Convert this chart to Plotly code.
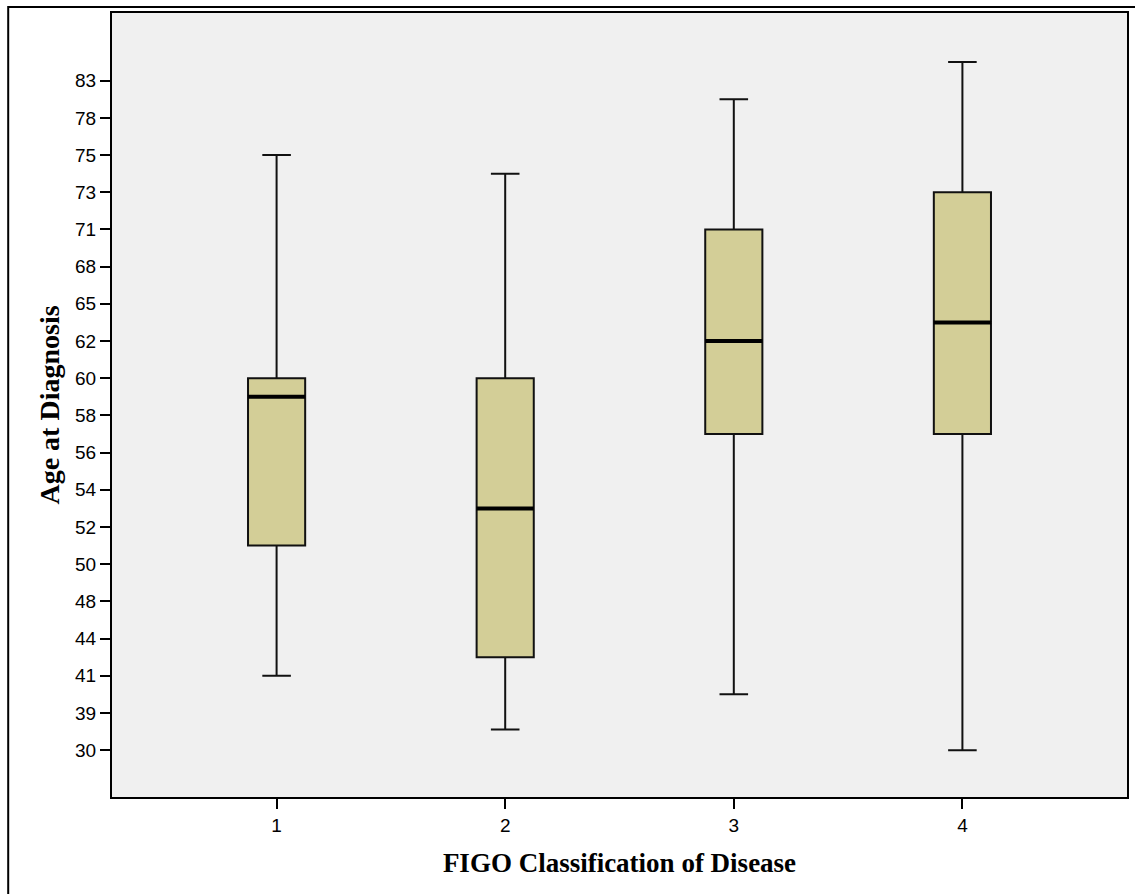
import numpy as np
import plotly.graph_objects as go

# Ordinal y-axis tick labels (ages), evenly spaced on the chart
tick_labels = [30, 39, 41, 44, 48, 50, 52, 54, 56, 58, 60, 62, 65, 68, 71, 73, 75, 78, 83]

categories = [1, 2, 3, 4]
lower_whisker = [41, 35, 40, 30]
q1_values = [51, 42.5, 57, 57]
median_values = [59, 53, 62, 63.5]
q3_values = [60, 60, 71, 73]
upper_whisker = [75, 74, 80.5, 85.5]


def age_to_pos(v):
    """Map an age onto the ordinal axis (tick i at position i), linear between ticks."""
    t = np.array(tick_labels, dtype=float)
    idx = np.arange(len(t), dtype=float)
    v = np.asarray(v, dtype=float)
    p = np.interp(v, t, idx)
    hi = v > t[-1]
    p = np.where(hi, idx[-1] + (v - t[-1]) / (t[-1] - t[-2]), p)
    lo = v < t[0]
    p = np.where(lo, (v - t[0]) / (t[1] - t[0]), p)
    return p


BOX_W = 0.25
fig = go.Figure()
fig.add_trace(go.Box(
    x=categories,
    q1=age_to_pos(q1_values),
    median=age_to_pos(median_values),
    q3=age_to_pos(q3_values),
    lowerfence=age_to_pos(lower_whisker),
    upperfence=age_to_pos(upper_whisker),
    width=BOX_W,
    whiskerwidth=0.5,
    fillcolor="#D3CE97",
    line=dict(color="#111111", width=2),
    boxpoints=False,
    hoverinfo="skip",
    showlegend=False,
))

# thick median lines
mx, my = [], []
for c, m in zip(categories, age_to_pos(median_values)):
    mx += [c - BOX_W / 2, c + BOX_W / 2, None]
    my += [m, m, None]
fig.add_trace(go.Scatter(x=mx, y=my, mode="lines",
                         line=dict(color="black", width=4),
                         showlegend=False, hoverinfo="skip"))

fig.update_layout(
    width=1135, height=894,
    margin=dict(l=112, r=6, t=13, b=97),
    paper_bgcolor="white",
    plot_bgcolor="#F0F0F0",
    font=dict(family="Liberation Sans, Arial", size=19, color="black"),
    xaxis=dict(
        range=[0.28, 4.72],
        tickvals=categories,
        ticktext=[str(c) for c in categories],
        ticks="outside", ticklen=10, tickwidth=2, tickcolor="black",
        showgrid=False, zeroline=False,
        showline=True, linecolor="black", linewidth=2, mirror=True,
        title=dict(text="<b>FIGO Classification of Disease</b>",
                   font=dict(family="Liberation Serif, Times New Roman", size=27),
                   standoff=18),
    ),
    yaxis=dict(
        range=[-1.26, 19.82],
        tickvals=list(range(len(tick_labels))),
        ticktext=[str(t) for t in tick_labels],
        ticks="outside", ticklen=10, tickwidth=2, tickcolor="black",
        showgrid=False, zeroline=False,
        showline=True, linecolor="black", linewidth=2, mirror=True,
        title=dict(text="<b>Age at Diagnosis</b>",
                   font=dict(family="Liberation Serif, Times New Roman", size=28),
                   standoff=7),
    ),
)

# outer frame of the original figure (top and left edges visible)
fig.add_shape(type="rect", xref="paper", yref="paper",
              x0=(8 - 112) / 1017, x1=1.2, y0=-0.3, y1=(797 - 7) / 784,
              line=dict(color="black", width=2), layer="below")

fig.write_html("out.html", config={"displayModeBar": False})

# remove the default page margin so the figure sits at the window origin
with open("out.html", "r", encoding="utf-8") as f:
    html = f.read()
html = html.replace("<head>", "<head><style>html,body{margin:0;padding:0;overflow:hidden;}</style>", 1)
with open("out.html", "w", encoding="utf-8") as f:
    f.write(html)
